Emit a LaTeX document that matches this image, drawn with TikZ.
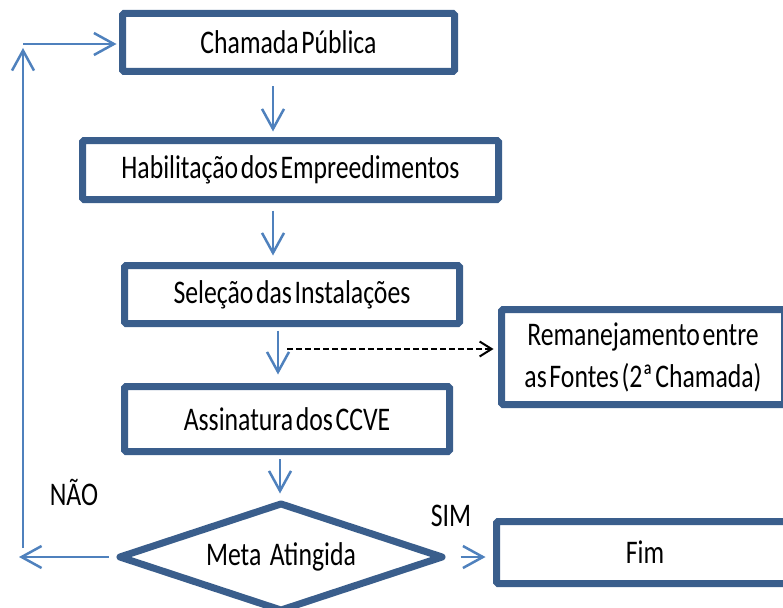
\documentclass[tikz,border=0pt]{standalone}
\usepackage{fontspec}
\setmainfont{Carlito}[FakeStretch=0.78, WordSpace=0.45]
\usetikzlibrary{arrows.meta,shapes.geometric}
\definecolor{boxblue}{HTML}{3A5E8C}
\definecolor{arrblue}{HTML}{4F81BD}
\tikzset{
  flowbox/.style={draw=boxblue, line width=7pt, fill=white, rounded corners=1.5pt,
    inner sep=0pt, align=center, font=\fontsize{33}{42}\selectfont},
  decision/.style={draw=boxblue, line width=7pt, fill=white, diamond, shape aspect=3,
    inner sep=0pt, line join=round, minimum width=325pt, minimum height=109pt,
    font=\fontsize{33}{42}\selectfont},
  arr/.style={draw=arrblue, line width=2.5pt, -{Straight Barb[length=20pt,width=22pt]}},
  dasharr/.style={draw=black, line width=2pt, dash pattern=on 6pt off 3pt,
    -{Straight Barb[length=12pt,width=15pt]}},
  lbl/.style={font=\fontsize{33}{42}\selectfont, inner sep=0pt}
}
\begin{document}
\begin{tikzpicture}[x=1pt,y=-1pt]
\useasboundingbox (0,0) rectangle (783,607);
\clip (0,0) rectangle (783,607);

\node[flowbox, minimum width=332pt, minimum height=58pt] (chamada) at (288.5,42.5) {Chamada Pública};
\node[flowbox, minimum width=416pt, minimum height=59pt] (habil) at (290.5,170) {Habilitação dos Empreedimentos};
\node[flowbox, minimum width=335pt, minimum height=58pt] (sel) at (292,294.5) {Seleção das Instalações};
\node[flowbox, minimum width=325pt, minimum height=65pt] (assin) at (287,419) {Assinatura dos CCVE};
\node[flowbox, minimum width=283pt, minimum height=95pt] (reman) at (643,357) {Remanejamento entre\\as Fontes (2ª Chamada)};
\node[flowbox, minimum width=297pt, minimum height=62pt] (fim) at (645,552.5) {Fim};
\node[decision] (meta) at (281,557) {Meta\hspace{6pt} Atingida};

\node[lbl] (nao) at (74,492) {NÃO};
\node[lbl] (sim) at (451,516) {SIM};

\draw[arr, shorten <=11.5pt, shorten >=5.5pt] ([xshift=-15.5pt]chamada.south) -- ([xshift=-15.5pt]chamada.south |- habil.north);
\draw[arr, shorten <=7.5pt, shorten >=6.5pt] ([xshift=-17.5pt]habil.south) -- ([xshift=-17.5pt]habil.south |- sel.north);
\draw[arr, shorten <=3.5pt, shorten >=8.5pt] ([xshift=-14pt]sel.south) -- ([xshift=-14pt]sel.south |- assin.north);
\draw[arr, shorten <=4pt, shorten >=5.5pt] ([xshift=-7pt]assin.south) -- ([xshift=-7pt]assin.south |- meta.north);

\coordinate (dstart) at (287,349);
\draw[dasharr, shorten >=4.5pt] (dstart) -- (dstart -| reman.west);

\draw[arr, shorten <=13.5pt, shorten >=7.5pt] (meta.east) -- (fim.west |- meta.east);

\coordinate (c1) at (19,557);
\coordinate (c2) at (23,548);
\coordinate (c3) at (23,48);
\coordinate (c4) at (23,44);
\draw[arr, shorten <=6.5pt] (meta.west) -- (meta.west -| c1);
\draw[arr] (c2) -- (c3);
\draw[arr, shorten >=2.5pt] (c4) -- (c4 -| chamada.west);
\end{tikzpicture}
\end{document}
